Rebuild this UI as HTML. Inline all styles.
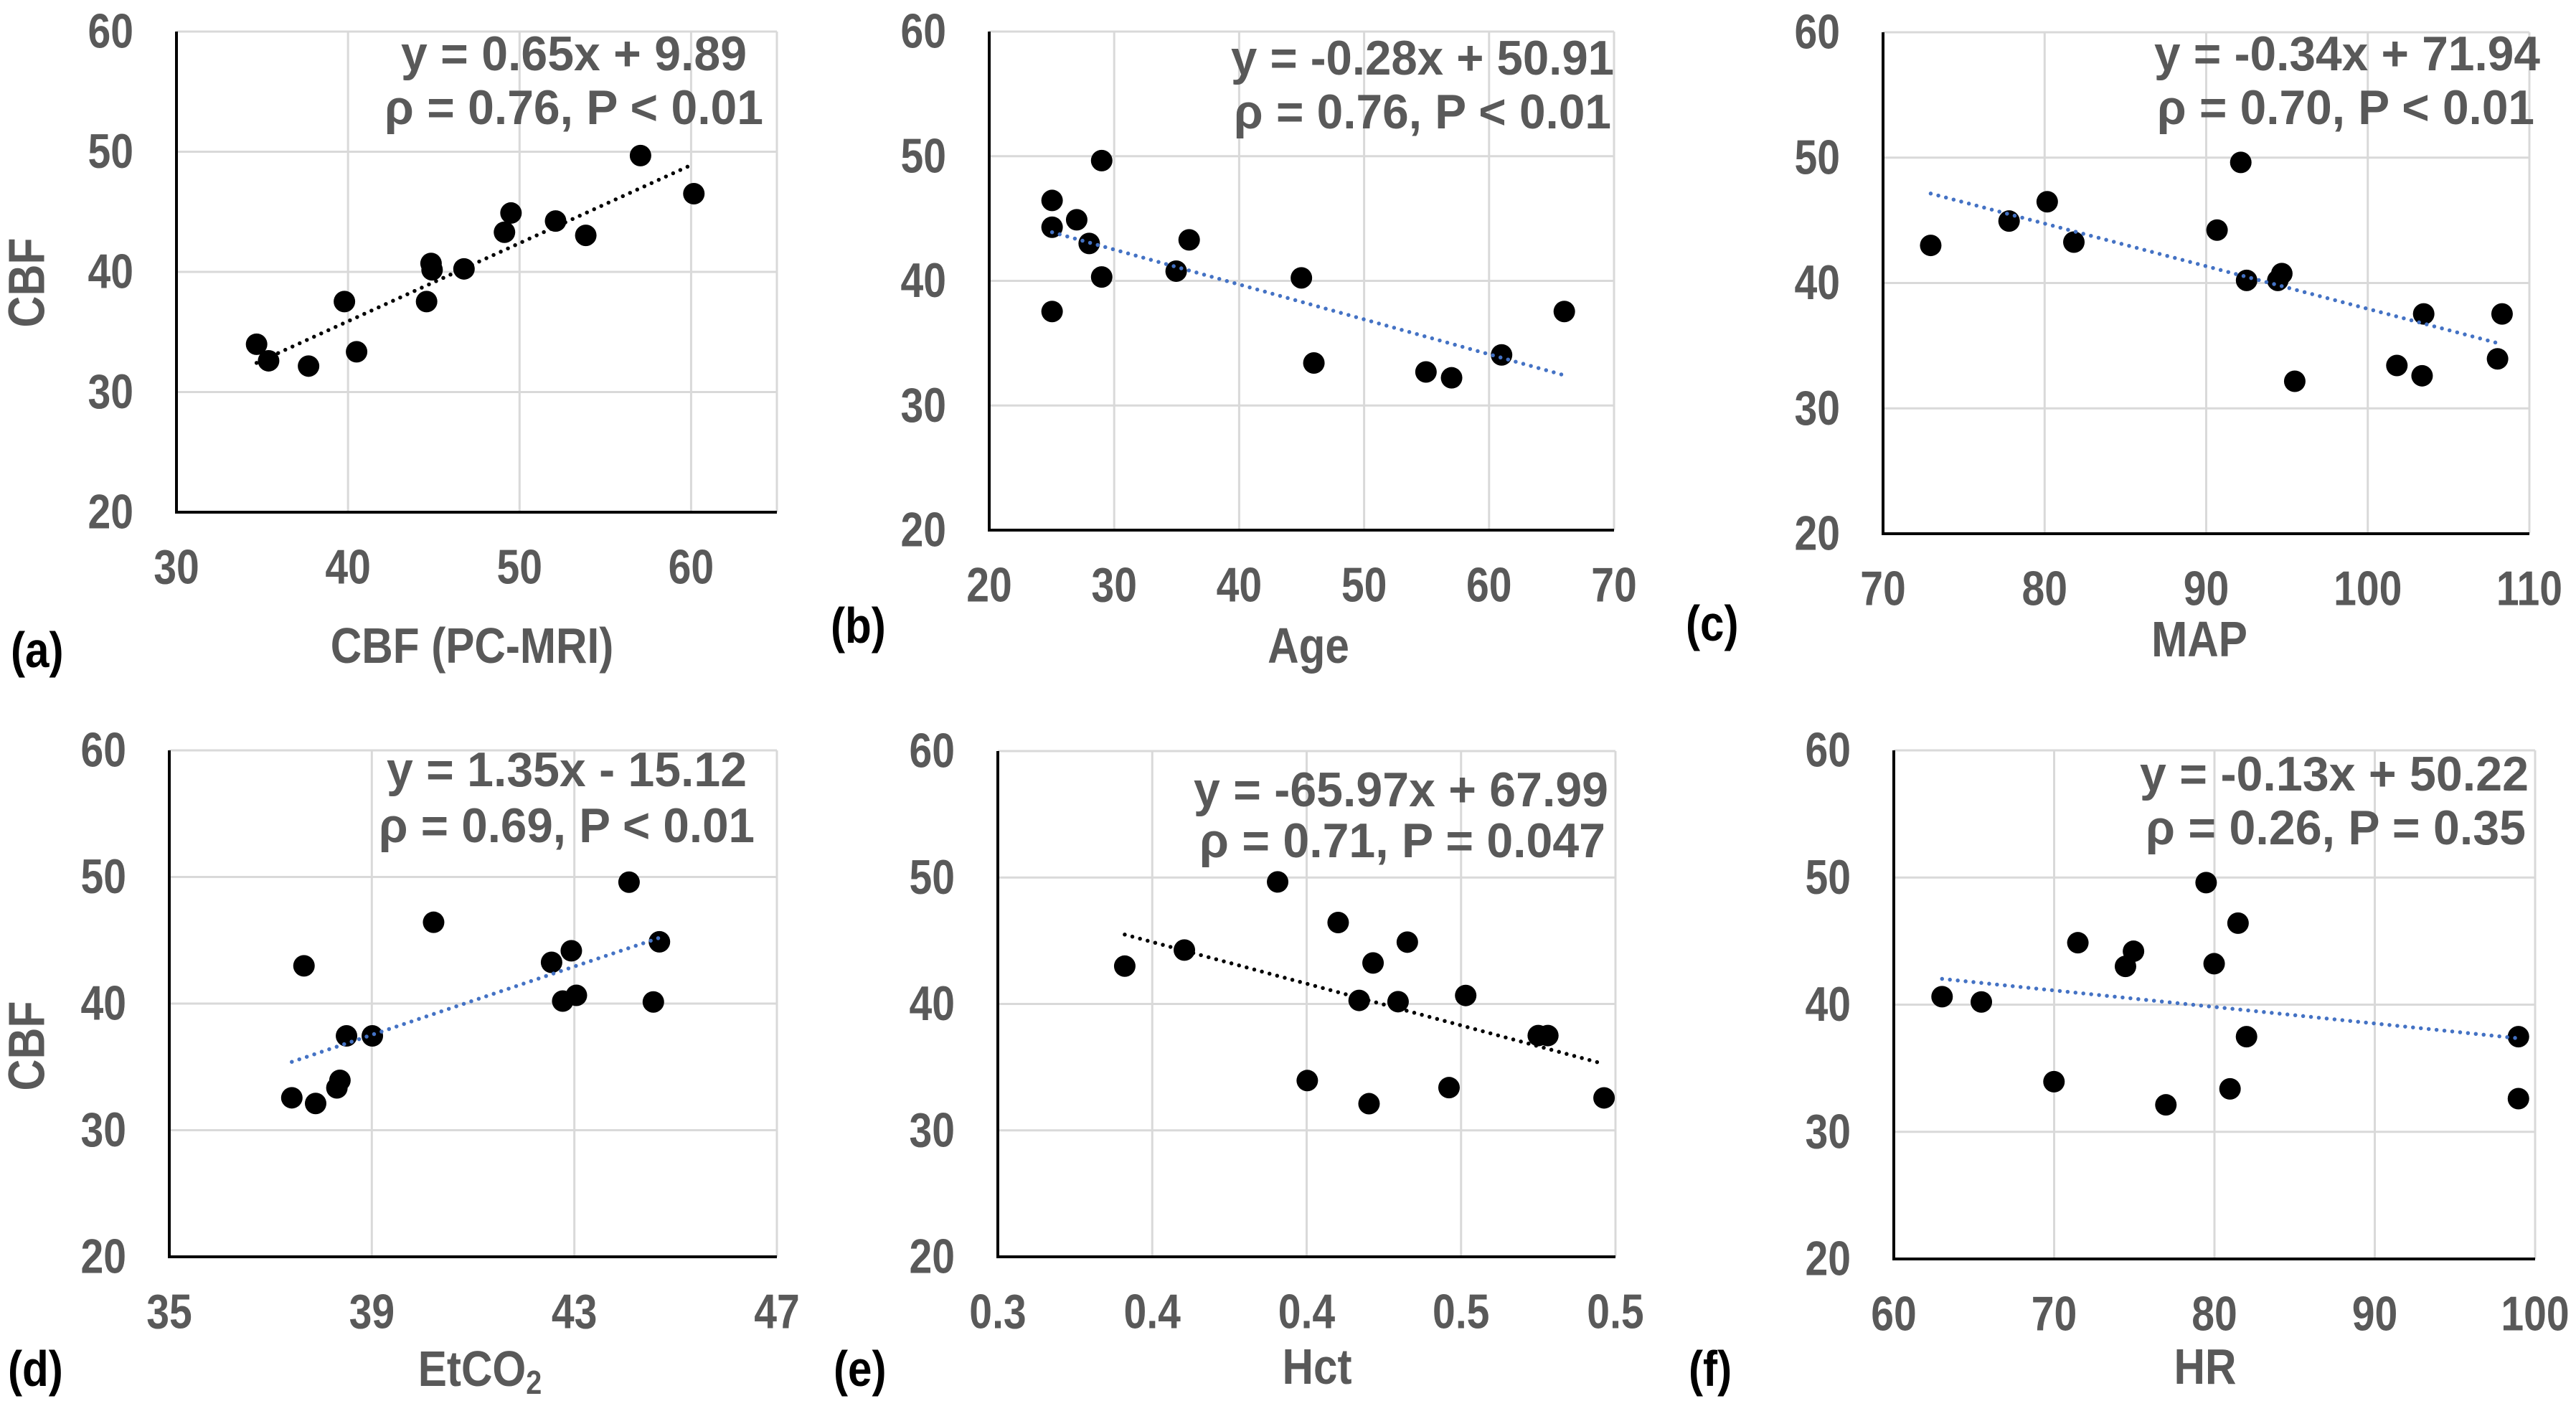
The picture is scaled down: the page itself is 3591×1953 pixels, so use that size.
<!DOCTYPE html>
<html><head><meta charset="utf-8">
<style>
html,body{margin:0;padding:0;background:#fff;}
svg{display:block;}
text{font-family:"Liberation Sans",Arial,sans-serif;font-weight:bold;}
</style></head>
<body>
<svg id="fig" xmlns="http://www.w3.org/2000/svg" width="3591" height="1953" viewBox="0 0 3591 1953"></svg>
<script>
// CBF values (y) and predictors (x) per panel
const aX = [34.67,35.37,37.7,39.79,40.5,44.58,44.84,44.9,46.76,49.12,49.5,52.1,53.86,57.05,60.16];
const aY = [33.98,32.6,32.16,37.53,33.35,37.53,40.7,40.17,40.25,43.3,44.9,44.23,43.04,49.68,46.51];
const bX = [25.03,25.03,25.03,27.0,28.0,29.0,29.0,34.96,36.0,44.98,45.98,54.95,57.0,61.0,66.02];
const bY = [46.45,44.3,37.54,44.9,43.0,49.65,40.31,40.78,43.29,40.24,33.41,32.69,32.22,34.06,37.54];
const cX = [72.95,77.8,80.16,81.81,90.67,92.14,92.5,94.43,94.68,95.48,101.8,103.36,103.46,108.03,108.31];
const cY = [43.0,44.94,46.48,43.26,44.22,49.62,40.21,40.21,40.75,32.16,33.42,32.6,37.53,33.95,37.53];
const dX = [37.42,37.66,37.89,38.31,38.37,38.5,39.01,40.22,42.55,42.77,42.94,43.04,44.08,44.56,44.68];
const dY = [32.56,42.98,32.11,33.34,33.94,37.45,37.45,46.42,43.26,40.2,44.17,40.65,49.59,40.13,44.88];
const eX = [0.3411,0.3604,0.3906,0.4002,0.4102,0.417,0.4202,0.4215,0.4296,0.4326,0.4461,0.4515,0.475,0.4781,0.4963];
const eY = [42.99,44.26,49.65,33.94,46.44,40.28,32.11,43.24,40.18,44.89,33.38,40.67,37.5,37.5,32.57];
const fX = [63.01,65.46,69.99,71.48,74.45,74.95,76.97,79.48,79.98,80.97,81.47,82.0,98.96,98.96];
const fY = [40.63,40.21,33.94,44.87,43.01,44.2,32.12,49.6,43.22,33.38,46.41,37.48,37.48,32.61];
// regression coefficients
const slopes = [0.65,-0.28,-0.34,1.35,-65.97,-0.13];
const intercepts = [9.89,50.91,71.94,-15.12,67.99,50.22];
// tick values and labels
const yTicks = [20,30,40,50,60];
const aTicks = [30,40,50,60,65]; const aTickLabels = ["30","40","50","60",""];
const bTicks = [20,30,40,50,60,70]; const bTickLabels = ["20","30","40","50","60","70"];
const cTicks = [70,80,90,100,110]; const cTickLabels = ["70","80","90","100","110"];
const dTicks = [35,39,43,47]; const dTickLabels = ["35","39","43","47"];
const eTicks = [0.3,0.35,0.4,0.45,0.5]; const eTickLabels = ["0.3","0.4","0.4","0.5","0.5"];
const fTicks = [60,70,80,90,100]; const fTickLabels = ["60","70","80","90","100"];
const eqLine1 = ["y = 0.65x + 9.89","y = -0.28x + 50.91","y = -0.34x + 71.94","y = 1.35x - 15.12","y = -65.97x + 67.99","y = -0.13x + 50.22"];
const eqLine2 = ["ρ = 0.76, P < 0.01","ρ = 0.76, P < 0.01","ρ = 0.70, P < 0.01","ρ = 0.69, P < 0.01","ρ = 0.71, P = 0.047","ρ = 0.26, P = 0.35"];

const panels = [
 {id:'a',xs:aX,ys:aY,ticks:aTicks,labels:aTickLabels,xmin:30,xmax:65,L:246,R:1083,T:44,B:714,trend:'#000',
  title:'CBF (PC-MRI)',tx:658,ty:900,plx:15,ply:906,ylab:394,e1:[1041,75,482],e2:[1064,150,528]},
 {id:'b',xs:bX,ys:bY,ticks:bTicks,labels:bTickLabels,xmin:20,xmax:70,L:1379,R:2250,T:44,B:739,trend:'#4472C4',
  title:'Age',tx:1824,ty:900,plx:1158,ply:872,e1:[2250,81,534],e2:[2246,156,526]},
 {id:'c',xs:cX,ys:cY,ticks:cTicks,labels:cTickLabels,xmin:70,xmax:110,L:2625,R:3526,T:45,B:744,trend:'#4472C4',
  title:'MAP',tx:3066,ty:891,plx:2350,ply:869,e1:[3541,75,538],e2:[3533,150,526]},
 {id:'d',xs:dX,ys:dY,ticks:dTicks,labels:dTickLabels,xmin:35,xmax:47,L:236,R:1083,T:1046,B:1752,trend:'#4472C4',
  title:'EtCO',tx:669,ty:1908,plx:11,ply:1908,ylab:1458,e1:[1041,1073,502],e2:[1052,1151,524]},
 {id:'e',xs:eX,ys:eY,ticks:eTicks,labels:eTickLabels,xmin:0.3,xmax:0.5,L:1391,R:2252,T:1047,B:1752,trend:'#000',
  title:'Hct',tx:1836,ty:1905,plx:1162,ply:1908,e1:[2242,1101,578],e2:[2238,1172,566]},
 {id:'f',xs:fX,ys:fY,ticks:fTicks,labels:fTickLabels,xmin:60,xmax:100,L:2640,R:3534,T:1046,B:1755,trend:'#4472C4',
  title:'HR',tx:3074,ty:1905,plx:2354,ply:1908,e1:[3525,1079,542],e2:[3521,1154,530]}
];
const NS='http://www.w3.org/2000/svg';
const svg=document.getElementById('fig');
function mk(tag,attrs,parent){const el=document.createElementNS(NS,tag);for(const k in attrs)el.setAttribute(k,attrs[k]);(parent||svg).appendChild(el);return el;}
// condensed text: placed at (x,y) and squeezed horizontally
function ctext(parent,x,y,str,size,anchor,fill,sx,rot){
  const tr=`translate(${x} ${y})`+(rot?` rotate(${rot})`:'')+` scale(${sx} 1)`;
  const t=mk('text',{x:0,y:0,transform:tr,'text-anchor':anchor,'dominant-baseline':'central','font-size':size,fill:fill},parent);
  t.textContent=str;
  return t;
}
const GRAY='#595959';
panels.forEach((p,i)=>{
  const g=mk('g',{});
  
  
  const sx=v=>p.L+(v-p.xmin)/(p.xmax-p.xmin)*(p.R-p.L);
  const sy=v=>p.B-(v-20)/(60-20)*(p.B-p.T);
  yTicks.forEach(t=>{
    if(t>20){const l=mk('line',{x1:p.L,x2:p.R,y1:sy(t),y2:sy(t),stroke:'#d9d9d9','stroke-width':3},g);
    
    }
    const tx=ctext(g,p.L-60,sy(t),String(t),68,'end',GRAY,0.84);
    
    
  });
  p.ticks.forEach((t,k)=>{
    if(k>0){const l=mk('line',{x1:sx(t),x2:sx(t),y1:p.T,y2:p.B,stroke:'#d9d9d9','stroke-width':3},g);
    
    }
    if(p.labels[k]){const tx=ctext(g,sx(t),p.B+77,p.labels[k],68,'middle',GRAY,0.84);
    
    }
  });
  const ax=mk('path',{d:`M${p.L},${p.T} V${p.B} H${p.R}`,fill:'none',stroke:'#000','stroke-width':4},g);
  
  
  p.xs.forEach((x,k)=>{
    const c=mk('circle',{cx:sx(x),cy:sy(p.ys[k]),r:15,fill:'#000'},g);
    
    
  });
  const x0=Math.min(...p.xs),x1=Math.max(...p.xs);
  const tl=mk('line',{x1:sx(x0),y1:sy(slopes[i]*x0+intercepts[i]),x2:sx(x1),y2:sy(slopes[i]*x1+intercepts[i]),stroke:p.trend,'stroke-width':5.5,'stroke-linecap':'round','stroke-dasharray':'0 11'},g);
  
  
  [[p.e1,eqLine1[i]],[p.e2,eqLine2[i]]].forEach(([e,s])=>{
    const t=mk('text',{x:e[0],y:e[1],'text-anchor':'end','dominant-baseline':'central','font-size':68,fill:GRAY,textLength:e[2],lengthAdjust:'spacingAndGlyphs'},g);
    t.textContent=s;
    
    
  });
  const xt=ctext(g,p.tx,p.ty,p.title,70,'middle',GRAY,0.86);
  if(p.id==='d'){const s=mk('tspan',{'font-size':46,dy:20},xt);s.textContent='2';}
  
  
  const pl=ctext(g,p.plx,p.ply,'('+p.id+')',70,'start','#000',0.86);
  
  
  if(p.ylab){
    const yt=mk('text',{x:0,y:0,transform:`translate(38 ${p.ylab}) rotate(-90) scale(0.95 1.12)`,'text-anchor':'middle','dominant-baseline':'central','font-size':64,fill:GRAY},g);
    yt.textContent='CBF';
    
    
  }
});
</script>
</body></html>
